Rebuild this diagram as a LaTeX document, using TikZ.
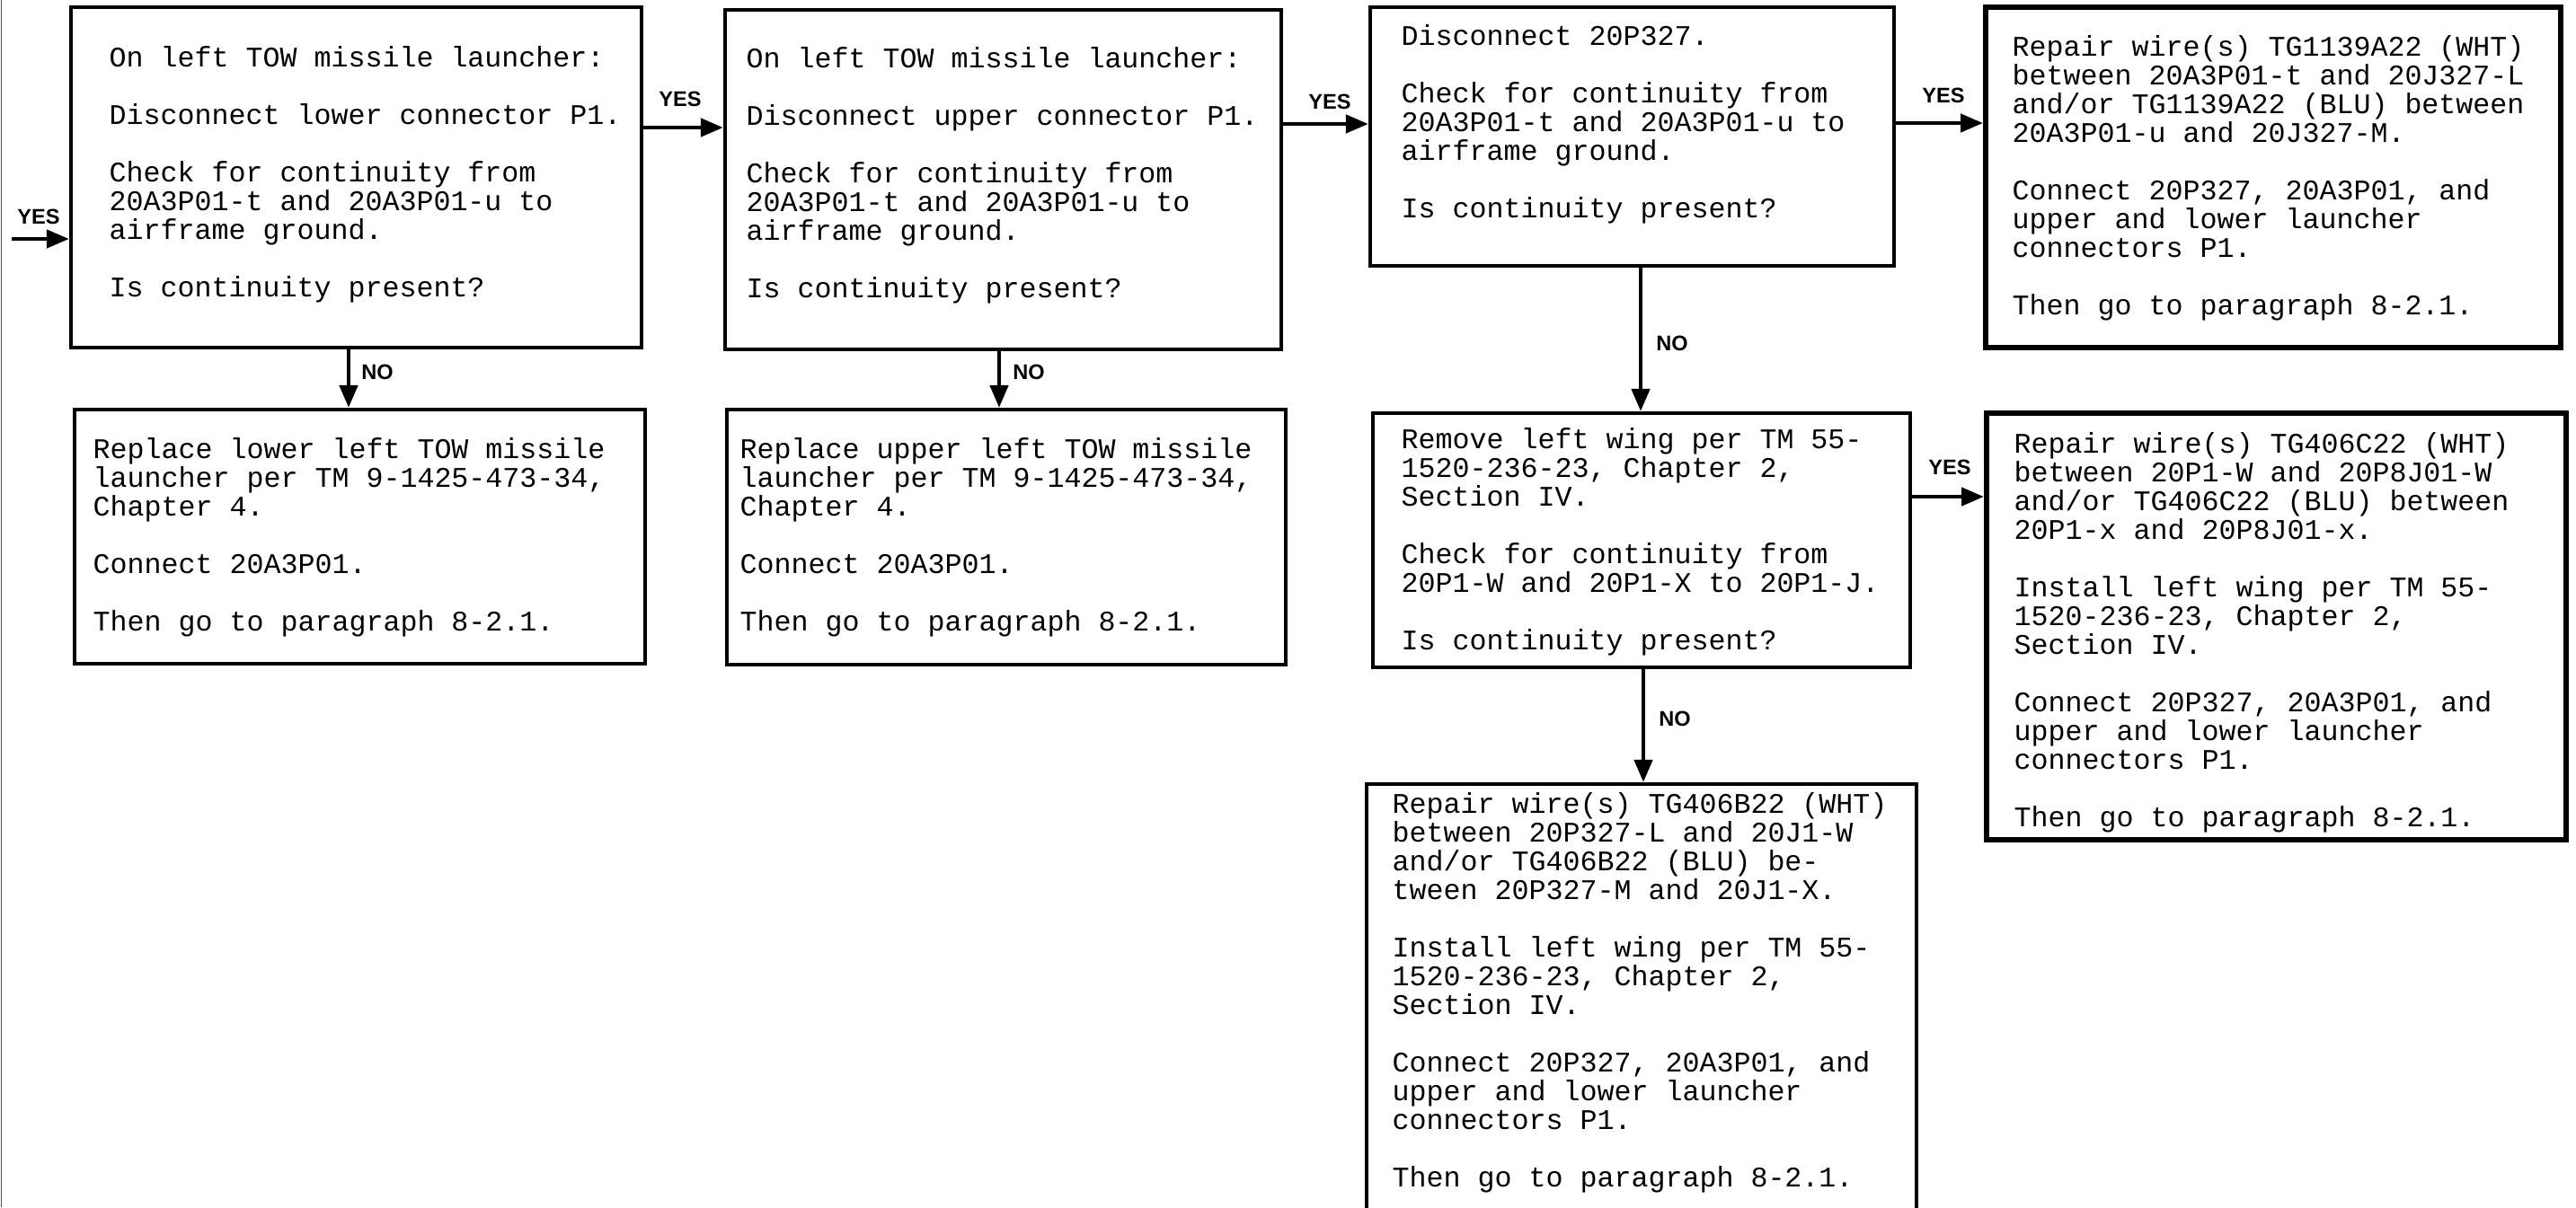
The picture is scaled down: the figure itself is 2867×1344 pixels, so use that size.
\documentclass[tikz,border=0pt]{standalone}
\usepackage{fontspec}
\newfontfamily\monof{Liberation Mono}
\newfontfamily\lblf{Liberation Sans}
\usetikzlibrary{arrows.meta,fit}
\newcommand{\txtlines}[1]{\parbox[t]{9cm}{\raggedright #1}}
\tikzset{
  box/.style={draw, line width=1.2pt, inner sep=0pt},
  heavybox/.style={box, line width=1.7pt},
  txt/.style={anchor=base west, inner sep=0pt, font=\monof\fontsize{9pt}{9.1pt}\selectfont},
  lbl/.style={inner sep=0pt, font=\lblf\bfseries\fontsize{6.7pt}{8pt}\selectfont},
  arr/.style={line width=1.3pt, -{Triangle[length=0.25cm, width=0.2cm]}},
}
\begin{document}
\begin{tikzpicture}[x=0.01cm, y=-0.01cm]
\useasboundingbox (0,0) rectangle (2867,1344);
\clip (0,0) rectangle (2867,1344);
\fill[white] (0,0) rectangle (2867,1344);
\draw[line width=0.4pt, black!70] (1.5,0) -- (1.5,1344);

% box corners
\coordinate (a1) at (79,8);     \coordinate (a2) at (714,387);
\coordinate (b1) at (807,11);   \coordinate (b2) at (1426,389);
\coordinate (c1) at (1525,8);   \coordinate (c2) at (2108,296);
\coordinate (d1) at (2210,8);   \coordinate (d2) at (2850,387);
\coordinate (e1) at (83,456);   \coordinate (e2) at (718,739);
\coordinate (f1) at (809,456);  \coordinate (f2) at (1431,740);
\coordinate (g1) at (1528,460); \coordinate (g2) at (2126,743);
\coordinate (h1) at (2211,460); \coordinate (h2) at (2856,935);
\coordinate (i1) at (1521,873); \coordinate (i2) at (2133,1420);

\node[box, fit=(a1)(a2)] (A) {};
\node[box, fit=(b1)(b2)] (B) {};
\node[box, fit=(c1)(c2)] (C) {};
\node[heavybox, fit=(d1)(d2)] (D) {};
\node[box, fit=(e1)(e2)] (E) {};
\node[box, fit=(f1)(f2)] (F) {};
\node[box, fit=(g1)(g2)] (G) {};
\node[heavybox, fit=(h1)(h2)] (H) {};
\node[box, fit=(i1)(i2)] (I) {};

% texts
\node[txt] (tA) at (121,74) {\txtlines{On left TOW missile launcher:\\~\\Disconnect lower connector P1.\\~\\Check for continuity from\\20A3P01-t and 20A3P01-u to\\airframe ground.\\~\\Is continuity present?}};
\node[txt] (tB) at (830,75) {\txtlines{On left TOW missile launcher:\\~\\Disconnect upper connector P1.\\~\\Check for continuity from\\20A3P01-t and 20A3P01-u to\\airframe ground.\\~\\Is continuity present?}};
\node[txt] (tC) at (1559,50) {\txtlines{Disconnect 20P327.\\~\\Check for continuity from\\20A3P01-t and 20A3P01-u to\\airframe ground.\\~\\Is continuity present?}};
\node[txt] (tD) at (2239,62) {\txtlines{Repair wire(s) TG1139A22 (WHT)\\between 20A3P01-t and 20J327-L\\and/or TG1139A22 (BLU) between\\20A3P01-u and 20J327-M.\\~\\Connect 20P327, 20A3P01, and\\upper and lower launcher\\connectors P1.\\~\\Then go to paragraph 8-2.1.}};
\node[txt] (tE) at (103,510) {\txtlines{Replace lower left TOW missile\\launcher per TM 9-1425-473-34,\\Chapter 4.\\~\\Connect 20A3P01.\\~\\Then go to paragraph 8-2.1.}};
\node[txt] (tF) at (823,510) {\txtlines{Replace upper left TOW missile\\launcher per TM 9-1425-473-34,\\Chapter 4.\\~\\Connect 20A3P01.\\~\\Then go to paragraph 8-2.1.}};
\node[txt] (tG) at (1559,499) {\txtlines{Remove left wing per TM 55-\\1520-236-23, Chapter 2,\\Section IV.\\~\\Check for continuity from\\20P1-W and 20P1-X to 20P1-J.\\~\\Is continuity present?}};
\node[txt] (tH) at (2241,504) {\txtlines{Repair wire(s) TG406C22 (WHT)\\between 20P1-W and 20P8J01-W\\and/or TG406C22 (BLU) between\\20P1-x and 20P8J01-x.\\~\\Install left wing per TM 55-\\1520-236-23, Chapter 2,\\Section IV.\\~\\Connect 20P327, 20A3P01, and\\upper and lower launcher\\connectors P1.\\~\\Then go to paragraph 8-2.1.}};
\node[txt] (tI) at (1549,905) {\txtlines{Repair wire(s) TG406B22 (WHT)\\between 20P327-L and 20J1-W\\and/or TG406B22 (BLU) be-\\tween 20P327-M and 20J1-X.\\~\\Install left wing per TM 55-\\1520-236-23, Chapter 2,\\Section IV.\\~\\Connect 20P327, 20A3P01, and\\upper and lower launcher\\connectors P1.\\~\\Then go to paragraph 8-2.1.}};

% connector guide coordinates
\coordinate (s0) at (13,266);
\coordinate (yab) at (0,142);
\coordinate (ybc) at (0,138);
\coordinate (ycd) at (0,137);
\coordinate (ygh) at (0,553);
\coordinate (xae) at (388,0);
\coordinate (xbf) at (1112,0);
\coordinate (xcg) at (1826,0);
\coordinate (xgi) at (1829,0);

\draw[arr] (s0) -- (s0 -| A.west);
\draw[arr] (A.east |- yab) -- (B.west |- yab);
\draw[arr] (B.east |- ybc) -- (C.west |- ybc);
\draw[arr] (C.east |- ycd) -- (D.west |- ycd);
\draw[arr] (G.east |- ygh) -- (H.west |- ygh);
\draw[arr] (A.south -| xae) -- (E.north -| xae);
\draw[arr] (B.south -| xbf) -- (F.north -| xbf);
\draw[arr] (C.south -| xcg) -- (G.north -| xcg);
\draw[arr] (G.south -| xgi) -- (I.north -| xgi);

% labels
\node[lbl] (l1) at (43,241) {YES};
\node[lbl] (l2) at (757,110) {YES};
\node[lbl] (l3) at (1480,113) {YES};
\node[lbl] (l4) at (2163,106) {YES};
\node[lbl] (l5) at (2170,520) {YES};
\node[lbl] (l6) at (420,414) {NO};
\node[lbl] (l7) at (1145,414) {NO};
\node[lbl] (l8) at (1861,382) {NO};
\node[lbl] (l9) at (1864,800) {NO};
\end{tikzpicture}
\end{document}
